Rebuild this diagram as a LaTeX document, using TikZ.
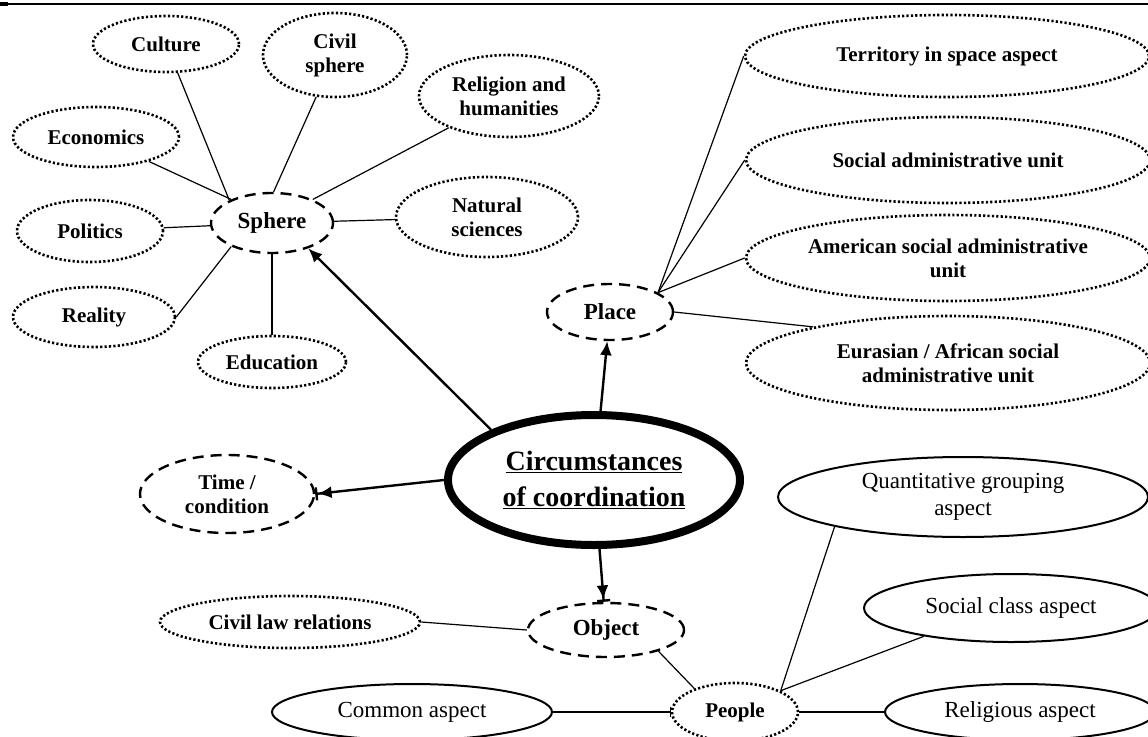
\documentclass[tikz,border=0pt]{standalone}
\usepackage{fontspec}
\setmainfont{Liberation Serif}
\usetikzlibrary{shapes.geometric, positioning, arrows.meta}
\tikzset{
>={Latex[length=14pt,width=12pt]}, % filled arrow heads
on grid, % relative placement is centre to centre
bubble/.style={ellipse, inner sep=0pt, align=center, font=\bfseries\fontsize{21}{24}\selectfont}, % every ellipse
dims/.style 2 args={minimum width=#1pt, minimum height=#2pt}, % axes of the ellipse
dots/.style={bubble, draw, line width=2.6pt, dash pattern=on 2.2pt off 2.2pt}, % dotted leaf
dashes/.style={bubble, draw, line width=2.4pt, dash pattern=on 11pt off 7pt, font=\bfseries\fontsize{23}{26}\selectfont}, % dashed hub
plain/.style={bubble, draw, line width=2pt, font=\fontsize{23}{27}\selectfont}, % solid ellipse, normal text
link/.style={line width=1.2pt}, % thin connector
arrow/.style={line width=2.4pt}, % thick arrow
bararrow/.style={-{Latex[length=14pt,width=12pt]Bar[width=13pt]}}, % arrow ending on a bar
}

\begin{document}
\begin{tikzpicture}[x=1pt, y=-1pt]
    \useasboundingbox (0,0) rectangle (1148,736);
    \draw[line width=1.5pt] (0,4) -- (1148,4);
    \draw[line width=4pt] (0,4) -- (8,4);
    % centre
    \node[ellipse, draw, line width=8pt, dims={292}{130}, inner sep=0pt, align=center, font=\bfseries\fontsize{28}{36}\selectfont] (circ) at (594,480) {\underline{Circumstances}\\\underline{of coordination}};
    % sphere and its leaves
    \node[dashes, dims={122}{60}, above left=257pt and 322pt of circ] (sphere) {Sphere};
    \node[dots, dims={146}{56}, above left=179pt and 106pt of sphere] (culture) {Culture};
    \node[dots, dims={144}{84}, above right=168pt and 63pt of sphere] (civil) {Civil\\sphere};
    \node[dots, dims={180}{82}, above right=127pt and 237pt of sphere] (religion) {Religion and\\humanities};
    \node[dots, dims={166}{60}, above left=86pt and 176pt of sphere] (economics) {Economics};
    \node[dots, dims={146}{62}, below left=8pt and 182pt of sphere] (politics) {Politics};
    \node[dots, dims={182}{80}, above right=6pt and 215pt of sphere] (natural) {Natural\\sciences};
    \node[dots, dims={162}{60}, below left=94pt and 178pt of sphere] (reality) {Reality};
    \node[dots, dims={148}{52}, below=139pt of sphere] (education) {Education};
    % place and its leaves
    \node[dashes, dims={126}{56}, above right=168pt and 16pt of circ] (place) {Place};
    \node[dots, dims={404}{82}, above right=256pt and 337pt of place] (territory) {Territory in space aspect};
    \node[dots, dims={404}{86}, above right=152pt and 338pt of place] (socialunit) {Social administrative unit};
    \node[dots, dims={404}{86}, above right=54pt and 338pt of place] (american) {American social administrative\\unit};
    \node[dots, dims={404}{94}, below right=51pt and 338pt of place] (eurasian) {Eurasian / African social\\administrative unit};
    % time, object, people
    \node[dashes, dims={174}{78}, font=\bfseries\fontsize{21}{24}\selectfont, below left=14pt and 367pt of circ] (time) {Time /\\condition};
    \node[dashes, dims={156}{54}, below right=150pt and 12pt of circ] (object) {Object};
    \node[dots, dims={260}{52}, above left=8pt and 316pt of object] (civillaw) {Civil law relations};
    \node[dots, dims={126}{58}, below right=82pt and 129pt of object] (people) {People};
    \node[plain, dims={280}{56}, left=323pt of people] (common) {Common aspect};
    \node[plain, dims={270}{56}, right=285pt of people] (religious) {Religious aspect};
    \node[plain, dims={370}{80}, above right=215pt and 228pt of people] (quant) {Quantitative grouping\\aspect};
    \node[plain, dims={294}{68}, above right=104pt and 276pt of people] (socialclass) {Social class aspect};
    \draw[link]
    (culture) edge (sphere.152)
    (economics) edge (sphere.150)
    (civil) edge (sphere.87)
    (religion) edge (sphere.30)
    (politics) edge (sphere)
    (natural) edge (sphere)
    (reality.east) edge (sphere.210)
    (education) edge (sphere)
    (place.22) edge (territory.west)
    (place.22) edge (socialunit.west)
    (place.22) edge (american.west)
    (place.east) edge (eurasian.165)
    (civillaw.east) edge (object.west)
    (object.-22) edge (people.150)
    (people.25) edge (quant.193)
    (people.25) edge (socialclass.198)
    (people) edge (religious)
    (common) edge[-{Bar[width=10pt]}] (people);
    \draw[arrow]
    (circ.154) edge[->] (sphere.-35)
    (circ) edge[->] (place)
    (circ.west) edge[bararrow] (time.east)
    (circ) edge[bararrow] (object);
\end{tikzpicture}
\end{document}
